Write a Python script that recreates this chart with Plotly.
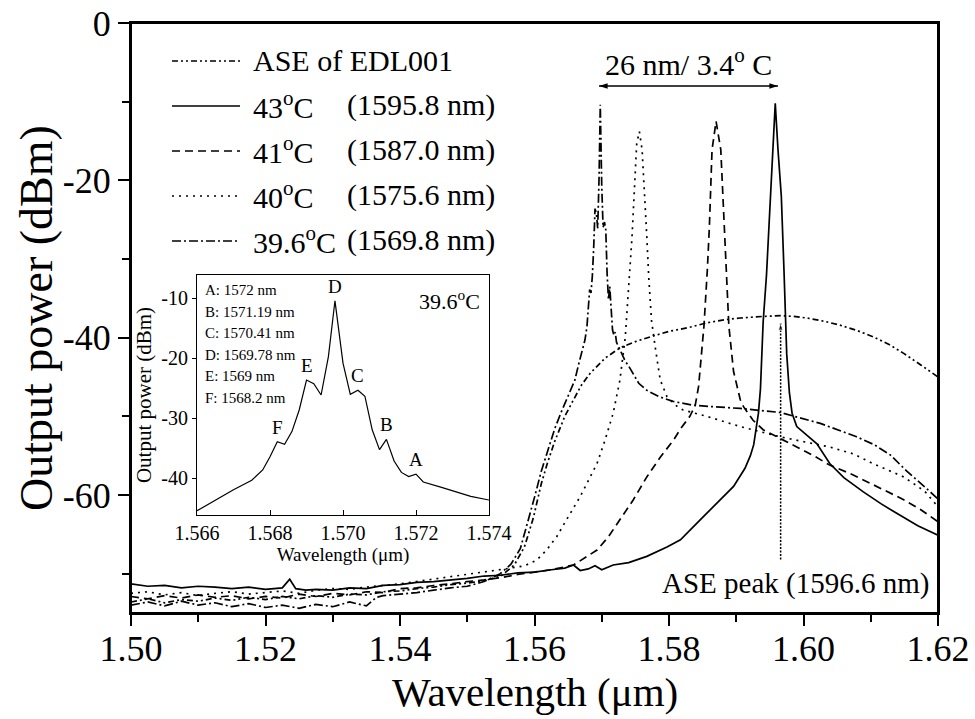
import plotly.graph_objects as go

FONT = "'Liberation Serif', 'Times New Roman', Times, serif"

# ---------------- spectra (wavelength in um, power in dBm) ----------------
ase_x = [1.5000, 1.5025, 1.5050, 1.5075, 1.5100, 1.5125, 1.5150, 1.5175, 1.5200, 1.5225,
         1.5250, 1.5275, 1.5300, 1.5325, 1.5350, 1.5375, 1.5400, 1.5425, 1.5450, 1.5475,
         1.5500, 1.5525, 1.5550, 1.5570, 1.5585, 1.5598, 1.5610, 1.5619, 1.5630, 1.5645,
         1.5658, 1.5670, 1.5683, 1.5705, 1.5727, 1.5750, 1.5772, 1.5800, 1.5830, 1.5857,
         1.5885, 1.5906, 1.5940, 1.5966, 1.5985, 1.6005, 1.6030, 1.6054, 1.6080, 1.6104,
         1.6128, 1.6149, 1.6175, 1.6200]
ase_y = [-73.6, -73.2, -73.7, -73.3, -73.5, -73.1, -73.4, -73.0, -73.3, -72.9,
         -73.2, -72.8, -73.0, -72.6, -72.7, -72.3, -72.2, -71.9, -71.7, -71.4,
         -71.2, -70.9, -70.3, -68.9, -66.6, -63.0, -58.6, -56.0, -53.2, -50.0,
         -47.9, -46.0, -44.5, -42.6, -41.3, -40.5, -39.9, -39.2, -38.7, -38.1,
         -37.7, -37.5, -37.3, -37.2, -37.3, -37.5, -37.9, -38.4, -39.1, -39.9,
         -40.9, -42.0, -43.5, -45.0]

t43_x = [1.5000, 1.5025, 1.5050, 1.5075, 1.5100, 1.5125, 1.5150, 1.5175, 1.5200, 1.5225,
         1.5236, 1.5245, 1.5260, 1.5275, 1.5300, 1.5325, 1.5350, 1.5375, 1.5400, 1.5425,
         1.5450, 1.5475, 1.5500, 1.5525, 1.5550, 1.5575, 1.5600, 1.5625, 1.5645, 1.5658,
         1.5668, 1.5680, 1.5690, 1.5700, 1.5717, 1.5740, 1.5767, 1.5797, 1.5817, 1.5846,
         1.5870, 1.5896, 1.5913, 1.5921, 1.5926, 1.5930, 1.5933, 1.5936, 1.5940, 1.5945,
         1.5952, 1.5958, 1.5962, 1.5967, 1.5971, 1.5975, 1.5979, 1.5983, 1.5990, 1.5998,
         1.6005, 1.6020, 1.6039, 1.6060, 1.6089, 1.6115, 1.6138, 1.6170, 1.6200]
t43_y = [-71.3, -71.6, -71.5, -71.8, -71.6, -71.7, -71.9, -71.7, -72.0, -71.8,
         -70.7, -71.9, -72.1, -72.0, -72.1, -71.8, -71.9, -71.5, -71.4, -71.1,
         -71.0, -70.8, -70.6, -70.3, -70.2, -69.9, -69.8, -69.5, -69.3, -68.9,
         -69.6, -69.4, -69.0, -69.5, -68.9, -68.6, -67.8, -66.6, -65.7, -63.2,
         -61.2, -58.9, -56.6, -55.0, -53.6, -51.3, -49.6, -46.5, -38.0, -32.0,
         -20.4, -10.2, -16.0, -22.0, -31.5, -42.0, -47.0, -49.6, -51.3, -51.9,
         -52.3, -53.5, -56.0, -57.8, -59.6, -61.1, -62.3, -63.9, -65.1]

t41_x = [1.5000, 1.5025, 1.5050, 1.5075, 1.5100, 1.5125, 1.5150, 1.5175, 1.5200, 1.5225,
         1.5250, 1.5275, 1.5300, 1.5325, 1.5350, 1.5375, 1.5400, 1.5425, 1.5450, 1.5475,
         1.5500, 1.5525, 1.5550, 1.5575, 1.5600, 1.5625, 1.5658, 1.5693, 1.5710, 1.5727,
         1.5747, 1.5767, 1.5787, 1.5807, 1.5817, 1.5831, 1.5839, 1.5844, 1.5852, 1.5857,
         1.5860, 1.5864, 1.5870, 1.5877, 1.5882, 1.5885, 1.5889, 1.5896, 1.5906, 1.5911,
         1.5925, 1.5940, 1.5965, 1.5990, 1.6015, 1.6039, 1.6070, 1.6099, 1.6125, 1.6149,
         1.6175, 1.6200]
t41_y = [-72.9, -73.2, -72.8, -73.1, -72.7, -73.0, -72.8, -73.2, -72.9, -73.1,
         -72.6, -72.9, -72.5, -72.7, -72.3, -72.4, -71.9, -71.8, -71.5, -71.3,
         -71.0, -70.8, -70.5, -70.1, -69.8, -69.5, -68.9, -67.0, -65.3, -63.2,
         -60.6, -57.7, -55.2, -53.0, -51.6, -50.0, -48.6, -46.2, -38.5, -31.4,
         -26.0, -16.1, -12.5, -16.1, -26.0, -32.0, -38.5, -44.3, -47.9, -48.8,
         -50.5, -51.7, -52.8, -53.9, -55.0, -56.2, -57.3, -58.5, -59.6, -60.6,
         -61.9, -63.4]

t40_x = [1.5000, 1.5025, 1.5050, 1.5075, 1.5100, 1.5125, 1.5150, 1.5175, 1.5200, 1.5225,
         1.5250, 1.5275, 1.5300, 1.5325, 1.5350, 1.5375, 1.5400, 1.5425, 1.5450, 1.5475,
         1.5500, 1.5525, 1.5545, 1.5564, 1.5585, 1.5603, 1.5618, 1.5633, 1.5650, 1.5668,
         1.5693, 1.5705, 1.5717, 1.5727, 1.5735, 1.5740, 1.5745, 1.5752, 1.5756, 1.5760,
         1.5764, 1.5767, 1.5770, 1.5774, 1.5780, 1.5787, 1.5797, 1.5810, 1.5821, 1.5856,
         1.5906, 1.5965, 1.6039, 1.6075, 1.6103, 1.6149, 1.6180, 1.6200]
t40_y = [-72.5, -72.3, -72.7, -72.4, -72.8, -72.5, -72.3, -72.6, -72.4, -72.2,
         -72.5, -72.1, -71.9, -72.0, -71.7, -71.5, -71.3, -71.0, -70.7, -70.4,
         -70.1, -69.8, -69.6, -69.3, -69.0, -68.3, -67.0, -65.3, -62.8, -60.2,
         -56.0, -53.0, -49.6, -45.4, -39.9, -33.0, -27.2, -15.3, -13.8, -16.1,
         -22.0, -27.2, -32.5, -37.8, -41.5, -45.4, -47.5, -48.6, -49.2, -50.0,
         -51.3, -52.6, -53.9, -54.8, -56.0, -57.7, -59.5, -61.5]

# 39.6 C laser: fine structure around the main line (also shown in the inset)
fine_x = [1.5660, 1.5665, 1.5670, 1.5675, 1.5678, 1.5680, 1.5682, 1.5684, 1.5686, 1.5688,
          1.5690, 1.5692, 1.5694, 1.5696, 1.56978, 1.5700, 1.5702, 1.57041, 1.5706, 1.5708,
          1.5710, 1.57119, 1.5714, 1.5716, 1.5718, 1.5720, 1.5722, 1.5727, 1.5735, 1.5740]
fine_y = [-45.4, -43.6, -41.9, -40.3, -38.6, -36.4, -33.9, -34.3, -32.2, -28.6,
          -23.6, -24.2, -26.1, -19.7, -10.4, -20.8, -26.0, -25.3, -26.3, -31.9,
          -35.2, -33.5, -37.1, -39.0, -39.7, -39.3, -40.6, -41.5, -43.0, -43.6]

t396_low_x = [1.5000, 1.5025, 1.5050, 1.5075, 1.5100, 1.5125, 1.5150, 1.5175, 1.5200, 1.5225,
              1.5250, 1.5275, 1.5300, 1.5325, 1.5350, 1.5365, 1.5375, 1.5400, 1.5425, 1.5450,
              1.5475, 1.5500, 1.5525, 1.5549, 1.5565, 1.5579, 1.5590, 1.5600, 1.5610, 1.5620,
              1.5630, 1.5640, 1.5650]
t396_low_y = [-74.0, -73.6, -74.1, -73.5, -74.0, -73.7, -74.2, -73.8, -74.3, -74.0,
              -74.4, -73.9, -74.2, -73.6, -74.1, -73.0, -72.8, -72.6, -72.4, -72.1,
              -71.8, -71.6, -71.0, -70.0, -68.8, -66.8, -63.5, -60.3, -57.0, -54.2,
              -51.6, -49.4, -47.4]
t396_high_x = [1.5755, 1.5767, 1.5785, 1.5806, 1.5836, 1.5870, 1.5906, 1.5965, 1.6025, 1.6079,
               1.6105, 1.6129, 1.6154, 1.6178, 1.6200]
t396_high_y = [-45.8, -46.7, -47.5, -48.1, -48.6, -48.8, -49.0, -49.5, -50.9, -52.6,
               -53.6, -54.9, -57.0, -58.8, -60.5]

# inset peak labels: letter, wavelength (um) as listed in the key
peak_letters = ["A", "B", "C", "D", "E", "F"]
peak_wl = [1.5720, 1.57119, 1.57041, 1.56978, 1.5690, 1.5682]
peak_key = ["A: 1572 nm", "B: 1571.19 nm", "C: 1570.41 nm",
            "D: 1569.78 nm", "E: 1569 nm", "F: 1568.2 nm"]

# legend rows
legend_temp = ["ASE of EDL001", "43<sup>o</sup>C", "41<sup>o</sup>C", "40<sup>o</sup>C", "39.6<sup>o</sup>C"]
legend_peak = ["", "(1595.8 nm)", "(1587.0 nm)", "(1575.6 nm)", "(1569.8 nm)"]

# axis ticks
x_major = [1.50, 1.52, 1.54, 1.56, 1.58, 1.60, 1.62]
x_labels = ["1.50", "1.52", "1.54", "1.56", "1.58", "1.60", "1.62"]
x_minor = [1.51, 1.53, 1.55, 1.57, 1.59, 1.61]
y_major = [0, -20, -40, -60]
y_labels = ["0", "-20", "-40", "-60"]
y_minor = [-10, -30, -50, -70]
ix_ticks = [1.566, 1.568, 1.570, 1.572, 1.574]
ix_labels = ["1.566", "1.568", "1.570", "1.572", "1.574"]
iy_ticks = [-10, -20, -30, -40]
iy_labels = ["-10", "-20", "-30", "-40"]

# tuning span (um) at the 39.6 C and 43 C lines, drawn at -8 dBm
span_x = [1.5696, 1.5962]
span_y = [-8.0, -8.0]
ase_peak_wl = 1.5966
ase_arrow_y = [-68.2, -38.1]

# ---------------- figure geometry (pixels) ----------------
W, H = 975, 719
L, R, T, B = 131, 938, 23, 613


def px(xp):
    return (xp - L) / (R - L)


def py(yp):
    return (B - yp) / (B - T)


STYLE_ASE = "6px,3px,2px,3px,2px,3px"
STYLE_43 = "solid"
STYLE_41 = "8px,5px"
STYLE_40 = "2px,5px"
STYLE_396 = "9px,3px,2px,3px"
LW = 1.7

t396_x = t396_low_x + fine_x + t396_high_x
t396_y = t396_low_y + fine_y + t396_high_y

fig = go.Figure()
for xs, ys, dash in [(ase_x, ase_y, STYLE_ASE), (t43_x, t43_y, STYLE_43), (t41_x, t41_y, STYLE_41),
                     (t40_x, t40_y, STYLE_40), (t396_x, t396_y, STYLE_396)]:
    fig.add_trace(go.Scatter(x=xs, y=ys, mode="lines", xaxis="x", yaxis="y",
                             line=dict(color="black", width=LW, dash=dash),
                             showlegend=False, hoverinfo="skip"))

# double-headed arrow for the tuning span
fig.add_trace(go.Scatter(x=span_x, y=span_y, mode="lines+markers",
                         line=dict(color="black", width=1.6),
                         marker=dict(symbol="arrow", angle=[-90, 90], size=9, color="black"),
                         showlegend=False, hoverinfo="skip", cliponaxis=False))

# dotted pointer to the ASE maximum
fig.add_trace(go.Scatter(x=[ase_peak_wl, ase_peak_wl], y=ase_arrow_y, mode="lines+markers",
                         line=dict(color="black", width=1.5, dash="2px,1.5px"),
                         marker=dict(symbol="arrow", angle=[0, 0], size=[0, 8], color="black"),
                         showlegend=False, hoverinfo="skip"))

# inset spectrum
fig.add_trace(go.Scatter(x=fine_x, y=fine_y, mode="lines", xaxis="x2", yaxis="y2",
                         line=dict(color="black", width=1.2), showlegend=False, hoverinfo="skip"))

ann = []
shapes = []

# frame of the main panel
shapes.append(dict(type="rect", xref="x domain", yref="y domain", x0=0, x1=1, y0=0, y1=1,
                   line=dict(color="black", width=2), layer="above"))

# hand-made legend
rows_y = [60, 105, 150, 195, 240]
styles = [STYLE_ASE, STYLE_43, STYLE_41, STYLE_40, STYLE_396]
for i in range(5):
    shapes.append(dict(type="line", xref="paper", yref="paper",
                       x0=px(172), x1=px(240), y0=py(rows_y[i] + 1), y1=py(rows_y[i] + 1),
                       line=dict(color="black", width=LW, dash=styles[i])))
    ann.append(dict(xref="paper", yref="paper", x=px(251), y=py(rows_y[i]), text=legend_temp[i],
                    xanchor="left", yanchor="middle", showarrow=False,
                    font=dict(family=FONT, size=30, color="black")))
    if legend_peak[i]:
        ann.append(dict(xref="paper", yref="paper", x=px(345), y=py(rows_y[i]), text=legend_peak[i],
                        xanchor="left", yanchor="middle", showarrow=False,
                        font=dict(family=FONT, size=30, color="black")))

ann.append(dict(xref="paper", yref="paper", x=px(688), y=py(62), text="26 nm/ 3.4<sup>o</sup> C",
                showarrow=False, xanchor="center", yanchor="middle",
                font=dict(family=FONT, size=30, color="black")))
ann.append(dict(xref="paper", yref="paper", x=px(795), y=py(583), text="ASE peak (1596.6 nm)",
                showarrow=False, xanchor="center", yanchor="middle",
                font=dict(family=FONT, size=29, color="black")))

# main axis titles
ann.append(dict(xref="paper", yref="paper", x=0.5, y=py(692), text="Wavelength (\u03bcm)",
                showarrow=False, xanchor="center", yanchor="middle",
                font=dict(family=FONT, size=41, color="black")))
ann.append(dict(xref="paper", yref="paper", x=px(36), y=0.5, text="Output power (dBm)",
                showarrow=False, xanchor="center", yanchor="middle", textangle=-90,
                font=dict(family=FONT, size=46, color="black")))

# inset key and peak letters
key_rows = [290, 311.5, 333, 354.5, 376, 397.5]
for i, t in enumerate(peak_key):
    ann.append(dict(xref="paper", yref="paper", x=px(203), y=py(key_rows[i]), text=t,
                    xanchor="left", yanchor="middle", showarrow=False,
                    font=dict(family=FONT, size=15, color="black")))
for letter, wl in zip(peak_letters, peak_wl):
    yv = fine_y[fine_x.index(wl)]
    ann.append(dict(xref="x2", yref="y2", x=wl, y=yv, text=letter, showarrow=False,
                    xanchor="center", yanchor="bottom", yshift=2,
                    font=dict(family=FONT, size=19, color="black")))
ann.append(dict(xref="paper", yref="paper", x=px(417), y=py(300), text="39.6<sup>o</sup>C",
                xanchor="left", yanchor="middle", showarrow=False,
                font=dict(family=FONT, size=22, color="black")))

axis_common = dict(showline=True, linecolor="black", mirror=True, showgrid=False, zeroline=False)

fig.update_layout(
    width=W, height=H, autosize=False,
    margin=dict(l=L, r=W - R, t=T, b=H - B, pad=0, autoexpand=False),
    paper_bgcolor="white", plot_bgcolor="white",
    font=dict(family=FONT, color="black"),
    xaxis=dict(range=[1.50, 1.62], tickvals=x_major, ticktext=x_labels, ticks="outside",
               ticklen=11, tickwidth=2, tickcolor="black", linewidth=2, automargin=False,
               ticklabelstandoff=-8, tickfont=dict(family=FONT, size=36),
               minor=dict(tickvals=x_minor, ticks="outside", ticklen=7, tickwidth=2, tickcolor="black"),
               **axis_common),
    yaxis=dict(range=[-75, 0], tickvals=y_major, ticktext=y_labels, ticks="outside",
               ticklen=11, tickwidth=2, tickcolor="black", linewidth=2, automargin=False,
               tickfont=dict(family=FONT, size=36),
               minor=dict(tickvals=y_minor, ticks="outside", ticklen=7, tickwidth=2, tickcolor="black"),
               **axis_common),
    xaxis2=dict(domain=[px(197), px(489)], anchor="y2", range=[1.566, 1.574],
                tickvals=ix_ticks, ticktext=ix_labels, ticks="inside", ticklen=5, tickwidth=1,
                tickcolor="black", linewidth=1, automargin=False, tickfont=dict(family=FONT, size=20),
                title=dict(text="Wavelength (\u03bcm)", font=dict(family=FONT, size=19), standoff=2),
                **axis_common),
    yaxis2=dict(domain=[py(515), py(275)], anchor="x2", range=[-46.1, -6.1],
                tickvals=iy_ticks, ticktext=iy_labels, ticks="outside", ticklen=4, tickwidth=1,
                tickcolor="black", linewidth=1, automargin=False, tickfont=dict(family=FONT, size=20),
                title=dict(text="Output power (dBm)", font=dict(family=FONT, size=21), standoff=3),
                **axis_common),
    annotations=ann,
    shapes=shapes,
)

fig.write_html("out.html")
